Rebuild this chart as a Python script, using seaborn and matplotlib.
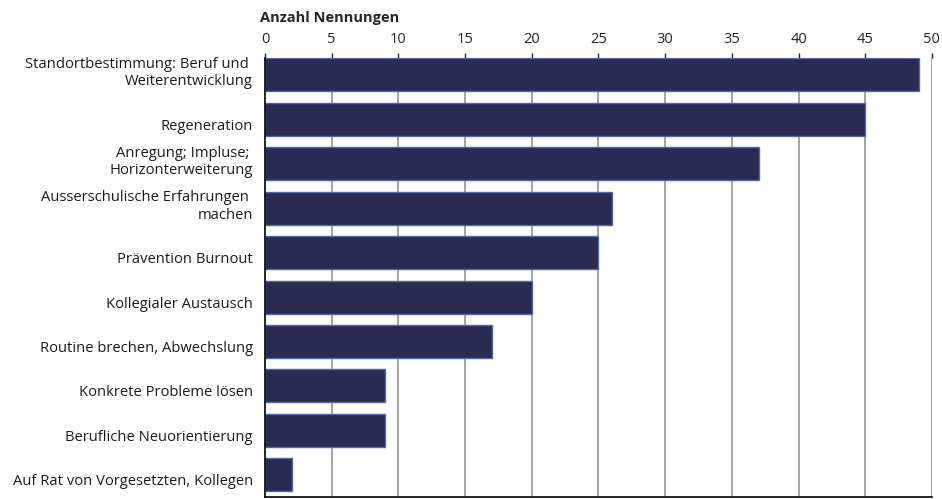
import matplotlib
matplotlib.use("Agg")
import matplotlib.pyplot as plt
import matplotlib.transforms as mtrans
import seaborn as sns
import pandas as pd

categories = [
    "Standortbestimmung: Beruf und \nWeiterentwicklung",
    "Regeneration",
    "Anregung; Impluse; \nHorizonterweiterung",
    "Ausserschulische Erfahrungen \nmachen",
    "Prävention Burnout",
    "Kollegialer Austausch",
    "Routine brechen, Abwechslung",
    "Konkrete Probleme lösen",
    "Berufliche Neuorientierung",
    "Auf Rat von Vorgesetzten, Kollegen",
]
values = [49, 45, 37, 26, 25, 20, 17, 9, 9, 2]
xticks = [0, 5, 10, 15, 20, 25, 30, 35, 40, 45, 50]

sns.set_theme(style="white")
plt.rcParams["font.family"] = ["Open Sans", "DejaVu Sans"]

df = pd.DataFrame({"cat": categories, "val": values})

fig = plt.figure(figsize=(9.42, 4.99), dpi=100)
ax = fig.add_axes([0.2813, 0.004, 0.708, 0.8788])

ax.set_axisbelow(True)
for t in xticks[1:]:
    ax.axvline(t, color="#8a8a8a", lw=1.1, zorder=0)

sns.barplot(data=df, x="val", y="cat", orient="h", color="#2b2a52",
            saturation=1, width=0.74, edgecolor="#5566a6", linewidth=1.0, ax=ax, zorder=2)

ax.set_xlim(0, 50)
ax.set_ylim(9.5, -0.37)
ax.set_xticks(xticks)
ax.xaxis.tick_top()
ax.tick_params(axis="x", which="major", top=True, bottom=False, length=3.8, width=1,
               color="#222222", labelsize=10.5, pad=4.5, direction="out")
ax.tick_params(axis="y", left=False, labelleft=False)
for s in ["top", "right"]:
    ax.spines[s].set_visible(False)
for s in ["left", "bottom"]:
    ax.spines[s].set_visible(True)
    ax.spines[s].set_color("black")
    ax.spines[s].set_linewidth(1.2)
ax.set_xlabel("")
ax.set_ylabel("")

off = mtrans.ScaledTranslation(-12 / 100, -14.5 / 100, fig.dpi_scale_trans)
trans = ax.get_yaxis_transform() + off
for i, cat in enumerate(categories):
    ax.text(0, i, cat, transform=trans, ha="right", va="bottom", multialignment="right",
            fontsize=10.6, color="#1a1a1a", linespacing=1.25)

fig.text(260 / 942, 1 - 18 / 499, "Anzahl Nennungen", fontsize=10.5, fontweight="bold",
         ha="left", va="center")

fig.savefig("out.png", dpi=100)
